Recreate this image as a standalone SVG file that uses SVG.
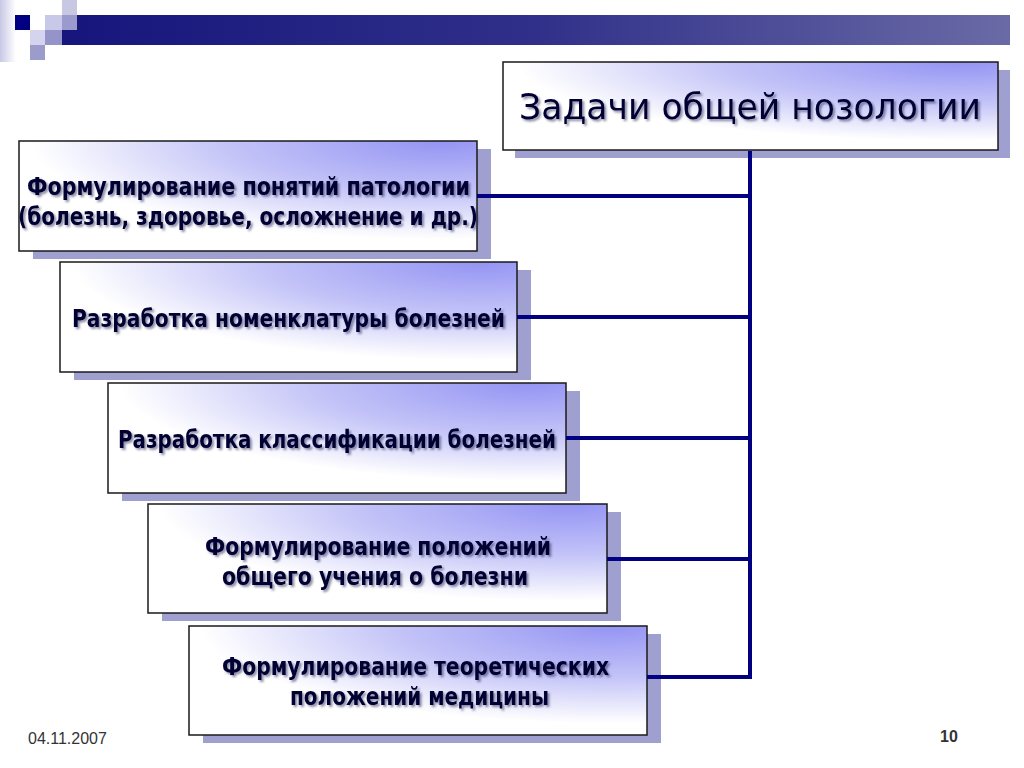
<svg xmlns="http://www.w3.org/2000/svg" width="1024" height="768" viewBox="0 0 1024 768">
<defs>
<radialGradient id="boxFill" cx="0.92" cy="0" r="1.05" fx="0.92" fy="0">
<stop offset="0" stop-color="#9494f4"/>
<stop offset="0.45" stop-color="#c4c4f8"/>
<stop offset="0.85" stop-color="#ffffff"/>
</radialGradient>
<linearGradient id="bar" x1="0" y1="0" x2="1" y2="0">
<stop offset="0" stop-color="#15157c"/>
<stop offset="0.5" stop-color="#30308a"/>
<stop offset="1" stop-color="#6a6aa6"/>
</linearGradient>
<linearGradient id="edge" x1="0" y1="0" x2="1" y2="0">
<stop offset="0" stop-color="#c8c8e6"/>
<stop offset="1" stop-color="#ffffff"/>
</linearGradient>
<filter id="ts" x="-20%" y="-60%" width="140%" height="220%">
<feDropShadow dx="2" dy="2" stdDeviation="1" flood-color="#303060" flood-opacity="0.55"/>
</filter>
</defs>
<style>
.shadow{fill:#a0a0d0}
.box{fill:url(#boxFill);stroke:#1a1a1a;stroke-width:1.5}
.t{font-family:"DejaVu Sans Condensed","DejaVu Sans",sans-serif;font-weight:bold;font-size:24px;fill:#000033;filter:url(#ts)}
.title{font-family:"DejaVu Sans","Liberation Sans",sans-serif;font-size:36px;fill:#000033;filter:url(#ts)}
.conn{stroke:#000080;stroke-width:4;fill:none}
.foot{font-family:"Liberation Sans",Arial,sans-serif;font-size:16px;fill:#333333}
</style>
<g id="decoration">
<rect x="0" y="0" width="16" height="62" fill="url(#edge)"/>
<rect x="62" y="15" width="948" height="30" fill="url(#bar)"/>
<rect x="15" y="15" width="15" height="15" fill="#000080"/>
<rect x="45" y="15" width="17" height="15" fill="#c8c8e8"/>
<rect x="62" y="0" width="15" height="15" fill="#c8c8e2"/>
<rect x="62" y="15" width="15" height="15" fill="#9a9acc"/>
<rect x="30" y="30" width="15" height="15" fill="#d4d4ee"/>
<rect x="45" y="30" width="17" height="15" fill="#9494c8"/>
<rect x="30" y="45" width="15" height="15" fill="#9c9ccc"/>
</g>
<g id="title">
<rect class="shadow" x="515" y="70" width="495" height="88"/>
<rect class="box" x="503" y="62" width="495" height="88"/>
<text class="title" x="750" y="119" text-anchor="middle" textLength="462" lengthAdjust="spacingAndGlyphs">Задачи общей нозологии</text>
</g>
<g id="node1">
<rect class="shadow" x="33" y="149" width="458" height="110"/>
<rect class="box" x="19" y="141" width="458" height="110"/>
<text class="t" x="27" y="195" textLength="443" lengthAdjust="spacingAndGlyphs">Формулирование понятий патологии</text>
<text class="t" x="18" y="225" textLength="460" lengthAdjust="spacingAndGlyphs">(болезнь, здоровье, осложнение и др.)</text>
</g>
<g id="node2">
<rect class="shadow" x="74" y="270" width="457" height="110"/>
<rect class="box" x="60" y="262" width="457" height="110"/>
<text class="t" x="72" y="327" textLength="433" lengthAdjust="spacingAndGlyphs">Разработка номенклатуры болезней</text>
</g>
<g id="node3">
<rect class="shadow" x="122" y="391" width="458" height="110"/>
<rect class="box" x="108" y="383" width="458" height="110"/>
<text class="t" x="118" y="448" textLength="438" lengthAdjust="spacingAndGlyphs">Разработка классификации болезней</text>
</g>
<g id="node4">
<rect class="shadow" x="162" y="512" width="459" height="109"/>
<rect class="box" x="148" y="504" width="459" height="109"/>
<text class="t" x="205" y="555" textLength="346" lengthAdjust="spacingAndGlyphs">Формулирование положений</text>
<text class="t" x="222" y="585" textLength="306" lengthAdjust="spacingAndGlyphs">общего учения о болезни</text>
</g>
<g id="node5">
<rect class="shadow" x="203" y="634" width="458" height="109"/>
<rect class="box" x="189" y="626" width="458" height="109"/>
<text class="t" x="222" y="675" textLength="387" lengthAdjust="spacingAndGlyphs">Формулирование теоретических</text>
<text class="t" x="290" y="705" textLength="259" lengthAdjust="spacingAndGlyphs">положений медицины</text>
</g>
<g id="connectors">
<line class="conn" x1="750" y1="151" x2="750" y2="679"/>
<line class="conn" x1="477" y1="196" x2="752" y2="196"/>
<line class="conn" x1="517" y1="317" x2="752" y2="317"/>
<line class="conn" x1="566" y1="438" x2="752" y2="438"/>
<line class="conn" x1="607" y1="559" x2="752" y2="559"/>
<line class="conn" x1="647" y1="677" x2="752" y2="677"/>
</g>
<g id="footer">
<text class="foot" x="28" y="744">04.11.2007</text>
<text class="foot" x="940" y="742" font-weight="bold" fill="#111111">10</text>
</g>
</svg>
